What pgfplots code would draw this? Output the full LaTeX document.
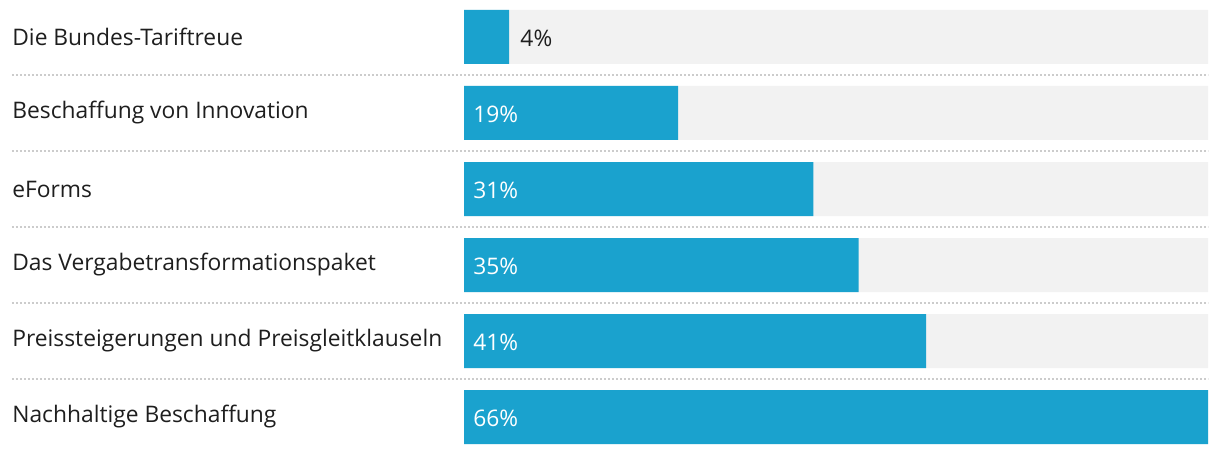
\documentclass[border=0pt]{standalone}
\usepackage{pgfplots}
\pgfplotsset{compat=1.18}
\usepackage{fontspec}
\setmainfont{Open Sans}
\definecolor{barblue}{HTML}{1AA2CE}
\definecolor{bggray}{HTML}{F2F2F2}
\definecolor{sepgray}{HTML}{CCCCCC}
\definecolor{txt}{HTML}{1E1E1E}
\begin{document}
% 1 px of the reference = 0.5pt
\begin{tikzpicture}
\begin{axis}[
    scale only axis,
    width=610pt, height=227pt,
    xmin=-41.161, xmax=67.065,
    ymin=-0.4868, ymax=5.4868,
    y dir=reverse,
    axis lines=none,
    ticks=none,
    clip=false,
    /pgf/number format/assume math mode=true,
    every node near coord/.append style={font=\fontsize{11.4}{13}\selectfont},
]
% keep the page as large as the whole chart
\path (rel axis cs:0,0) rectangle (rel axis cs:1,1);
% full-width background bars
\addplot[xbar, bar width=27pt, bar shift=0pt, fill=bggray, draw=none]
    coordinates {(66,0) (66,1) (66,2) (66,3) (66,4) (66,5)};
% values
\addplot[xbar, bar width=27pt, bar shift=0pt, fill=barblue, draw=none]
    coordinates {(4,0) (19,1) (31,2) (35,3) (41,4) (66,5)};
% dotted separators
\pgfplotsinvokeforeach{0.5,1.5,2.5,3.5,4.5}{
  \addplot[sepgray, line width=1pt, dash pattern=on 1pt off 1pt] coordinates {(-40.1,#1) (66,#1)};
}
% value labels inside the bars
\addplot[draw=none, mark=none, point meta=explicit,
    nodes near coords={\pgfmathprintnumber{\pgfplotspointmeta}\%},
    nodes near coords style={anchor=west, white, xshift=4.5pt, yshift=-0.5pt, inner sep=0pt}]
    coordinates {(0,1) [19] (0,2) [31] (0,3) [35] (0,4) [41] (0,5) [66]};
% value label beside the short bar
\addplot[draw=none, mark=none, point meta=explicit,
    nodes near coords={\pgfmathprintnumber{\pgfplotspointmeta}\%},
    nodes near coords style={anchor=west, txt, xshift=5.5pt, yshift=-0.5pt, inner sep=0pt}]
    coordinates {(4,0) [4]};
% category labels
\addplot[draw=none, mark=none, point meta=explicit symbolic,
    nodes near coords={\pgfplotspointmeta},
    nodes near coords style={anchor=west, txt, inner sep=0pt}]
    coordinates {
      (-40.1,0) [Die Bundes-Tariftreue]
      (-40.1,1) [Beschaffung von Innovation]
      (-40.1,2) [eForms]
      (-40.1,3) [Das Vergabetransformationspaket]
      (-40.1,4) [Preissteigerungen und Preisgleitklauseln]
      (-40.1,5) [Nachhaltige Beschaffung]
    };
\end{axis}
\end{tikzpicture}
\end{document}
